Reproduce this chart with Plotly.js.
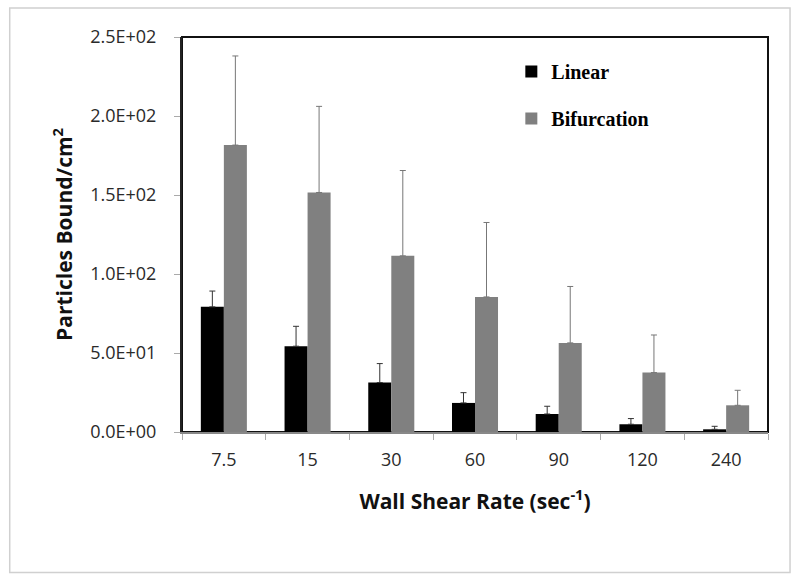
<!DOCTYPE html>
<html>
<head>
<meta charset="utf-8">
<script src="https://cdn.plot.ly/plotly-3.0.1.min.js"></script>
<style>html,body{margin:0;padding:0;background:#fff;}#chart{width:800px;height:585px;}</style>
</head>
<body>
<div id="chart"></div>
<script>
const categories = ["7.5", "15", "30", "60", "90", "120", "240"];
const linearValues = [79.2, 54.3, 31.3, 18.4, 11.4, 4.9, 1.7];
const linearErrors = [10.0, 12.6, 12.0, 6.5, 4.9, 3.6, 1.9];
const bifurcationValues = [181.6, 151.6, 111.5, 85.5, 56.4, 37.6, 16.9];
const bifurcationErrors = [56.4, 54.5, 54.0, 47.1, 35.7, 23.8, 9.5];
const yTickValues = [0, 50, 100, 150, 200, 250];
const yTickLabels = ["0.0E+00", "5.0E+01", "1.0E+02", "1.5E+02", "2.0E+02", "2.5E+02"];

const traces = [
  {
    type: "bar", name: "<b>Linear</b>", x: categories, y: linearValues,
    marker: {color: "#000000"}, legendgroup: "a",
    error_y: {type: "data", array: linearErrors, arrayminus: linearErrors.map(() => 0), symmetric: false,
              color: "#333333", thickness: 1, width: 3}
  },
  {
    type: "bar", name: "<b>Bifurcation</b>", x: categories, y: bifurcationValues,
    marker: {color: "#808080"}, legendgroup: "b",
    error_y: {type: "data", array: bifurcationErrors, arrayminus: bifurcationErrors.map(() => 0), symmetric: false,
              color: "#777777", thickness: 1, width: 3}
  }
];

const layout = {
  width: 800, height: 585,
  margin: {l: 182, r: 32, t: 37, b: 153},
  paper_bgcolor: "#ffffff", plot_bgcolor: "#ffffff",
  barmode: "group", bargap: 0.45, bargroupgap: 0,
  font: {family: "Open Sans, Noto Sans, sans-serif", color: "#222"},
  showlegend: true,
  legend: {
    x: 0.562, y: 0.962, xanchor: "left", yanchor: "top",
    traceorder: "grouped", tracegroupgap: 18,
    font: {family: "Liberation Serif, serif", size: 20, color: "#000"},
    bgcolor: "rgba(0,0,0,0)"
  },
  xaxis: {
    type: "category",
    showline: true, linecolor: "#888888", linewidth: 2,
    ticks: "outside", tickson: "boundaries", ticklen: 6, tickcolor: "#aaaaaa",
    ticklabelstandoff: 10,
    tickfont: {size: 18, color: "#2a2a2a"},
    showgrid: false, zeroline: false,
    title: {text: "<b>Wall Shear Rate (sec<sup>-1</sup>)</b>", font: {size: 21, color: "#111"}, standoff: 25}
  },
  yaxis: {
    range: [0, 250],
    tickvals: yTickValues, ticktext: yTickLabels,
    showline: true, linecolor: "#222222", linewidth: 2,
    ticks: "outside", ticklen: 6, tickcolor: "#aaaaaa",
    ticklabelstandoff: 14,
    tickfont: {size: 18, color: "#2a2a2a"},
    showgrid: false, zeroline: false,
    title: {text: "<b>Particles Bound/cm<sup>2</sup></b>", font: {size: 21, color: "#111"}, standoff: 12}
  },
  shapes: [
    {type: "rect", xref: "paper", yref: "paper", x0: 0, x1: 1, y0: 0, y1: 1,
     line: {color: "#111111", width: 2}, layer: "below"},
    {type: "rect", xref: "paper", yref: "paper", x0: -0.294, x1: 1.0376, y0: -0.3555, y1: 1.0735,
     line: {color: "#d0d0d0", width: 1.5}, layer: "below"}
  ]
};

Plotly.newPlot("chart", traces, layout, {displayModeBar: false, staticPlot: true});
</script>
</body>
</html>
